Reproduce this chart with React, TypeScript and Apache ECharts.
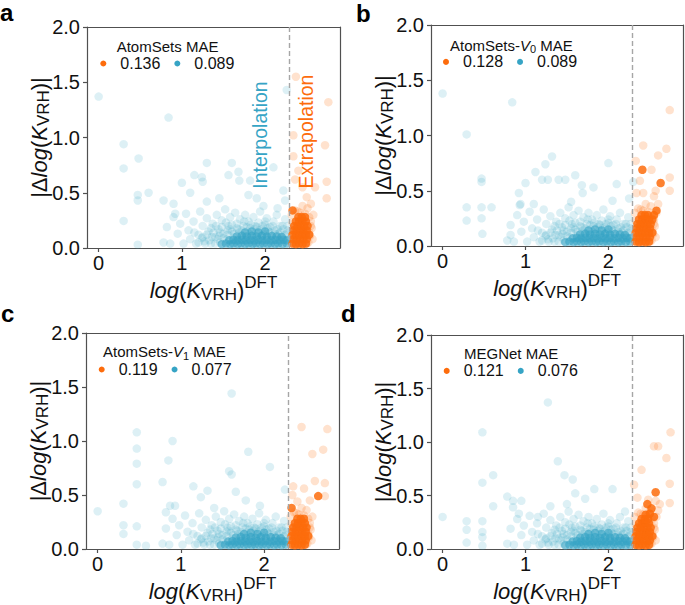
import React, { useEffect, useRef } from 'react';
import * as echarts from 'echarts';

// ---------------- data ----------------
const panelIds = ['a', 'b', 'c', 'd'];
const threshold = 2.29;
const xTicks = [0, 1, 2];
const maeExtrap = ['0.136', '0.128', '0.119', '0.121'];
const maeInterp = ['0.089', '0.089', '0.077', '0.076'];
const modelTitles = ['AtomSets MAE', 'AtomSets-{i|V}{s|0} MAE', 'AtomSets-{i|V}{s|1} MAE', 'MEGNet MAE'];

// dense interpolation cloud (common test-set body)
const interpCloud = [
  [0.78, 0.05], [0.82, 0.19], [0.86, 0.04], [0.9, 0.28], [0.95, 0.13], [0.98, 0.22], [1.02, 0.04], [1.05, 0.31], [1.08, 0.16], [1.1, 0.08],
  [1.14, 0.24], [1.17, 0.04], [1.2, 0.12], [1.22, 0.33], [1.25, 0.2], [1.27, 0.06], [1.3, 0.27], [1.32, 0.15], [1.35, 0.04], [1.37, 0.22],
  [1.4, 0.1], [1.42, 0.3], [1.44, 0.17], [1.46, 0.05], [1.48, 0.25], [1.5, 0.13], [1.52, 0.35], [1.54, 0.08], [1.56, 0.2], [1.58, 0.28],
  [1.6, 0.15], [1.62, 0.1], [1.64, 0.32], [1.66, 0.22], [1.68, 0.17], [1.7, 0.26], [1.72, 0.12], [1.74, 0.2], [1.76, 0.3], [1.78, 0.15],
  [1.8, 0.24], [1.82, 0.18], [1.84, 0.11], [1.86, 0.28], [1.88, 0.2], [1.9, 0.14], [1.92, 0.23], [1.94, 0.33], [1.96, 0.17], [1.98, 0.12],
  [2.0, 0.21], [2.02, 0.27], [2.04, 0.15], [2.06, 0.19], [2.08, 0.11], [2.1, 0.24], [2.12, 0.16], [2.14, 0.3], [2.16, 0.13], [2.18, 0.2],
  [2.2, 0.1], [2.22, 0.17], [2.24, 0.26], [2.26, 0.13], [2.28, 0.08], [2.27, 0.2], [1.65, 0.06], [1.75, 0.07], [1.85, 0.05], [1.95, 0.08],
  [1.55, 0.16], [1.45, 0.11], [1.35, 0.18], [1.25, 0.1], [1.15, 0.14],
];
const interpBand = [
  [1.2, 0.05], [1.24, 0.09], [1.28, 0.04], [1.3, 0.12], [1.33, 0.07], [1.36, 0.1], [1.38, 0.14], [1.4, 0.04], [1.41, 0.2], [1.43, 0.08],
  [1.46, 0.14], [1.48, 0.19], [1.5, 0.09], [1.53, 0.23], [1.55, 0.12], [1.58, 0.17], [1.6, 0.21], [1.63, 0.13], [1.66, 0.18], [1.69, 0.14],
  [1.72, 0.16], [1.75, 0.24], [1.78, 0.19], [1.81, 0.13], [1.83, 0.21], [1.87, 0.17], [1.9, 0.19], [1.93, 0.16], [1.97, 0.2], [2.0, 0.13],
  [2.03, 0.18], [2.06, 0.14], [2.09, 0.2], [2.12, 0.13], [2.15, 0.17], [2.18, 0.14], [2.21, 0.2], [2.24, 0.12], [2.27, 0.16], [2.0, 0.24],
];
const interpCore = [
  [1.48, 0.035], [1.53, 0.04], [1.58, 0.035], [1.62, 0.04], [1.67, 0.035], [1.71, 0.04], [1.76, 0.035], [1.8, 0.04], [1.85, 0.035],
  [1.89, 0.04], [1.94, 0.035], [1.98, 0.04], [2.03, 0.035], [2.07, 0.04], [2.12, 0.035], [2.16, 0.04], [2.21, 0.035], [2.26, 0.04],
  [1.57, 0.07], [1.62, 0.075], [1.67, 0.07], [1.72, 0.075], [1.77, 0.07], [1.82, 0.075], [1.87, 0.07], [1.92, 0.075], [1.97, 0.07],
  [2.02, 0.075], [2.07, 0.07], [2.12, 0.075], [2.17, 0.07], [2.22, 0.075], [2.26, 0.07],
  [1.66, 0.105], [1.72, 0.11], [1.78, 0.105], [1.84, 0.11], [1.9, 0.105], [1.96, 0.11], [2.02, 0.105], [2.08, 0.11], [2.14, 0.105], [2.2, 0.1],
  [1.76, 0.14], [1.84, 0.15], [1.92, 0.14], [2.0, 0.15],
];
const extrapCloud = [
  [2.32, 0.3], [2.36, 0.34], [2.42, 0.32], [2.48, 0.31], [2.53, 0.28], [2.55, 0.24], [2.56, 0.18], [2.54, 0.11], [2.52, 0.05],
  [2.58, 0.3], [2.45, 0.38], [2.51, 0.36], [2.33, 0.23], [2.57, 0.08], [2.5, 0.04], [2.55, 0.2], [2.53, 0.14], [2.39, 0.33],
];
const extrapCore = [
  [2.33, 0.04], [2.37, 0.035], [2.41, 0.04], [2.45, 0.035], [2.49, 0.04],
  [2.34, 0.08], [2.38, 0.08], [2.42, 0.085], [2.46, 0.08], [2.5, 0.08],
  [2.33, 0.12], [2.37, 0.12], [2.41, 0.12], [2.45, 0.125], [2.49, 0.12], [2.53, 0.12],
  [2.34, 0.16], [2.38, 0.16], [2.42, 0.165], [2.46, 0.16], [2.5, 0.16],
  [2.35, 0.2], [2.39, 0.2], [2.43, 0.205], [2.47, 0.2], [2.51, 0.2],
  [2.37, 0.24], [2.41, 0.24], [2.45, 0.245], [2.49, 0.24],
  [2.4, 0.28], [2.44, 0.28], [2.48, 0.28],
];

// per-panel scattered points
const aInterp = [[0, 1.37], [0.84, 1.18], [2.26, 1.43], [0.3, 0.94], [0.3, 0.72], [0.48, 0.81], [0.47, 0.48], [0.47, 0.43], [0.6, 0.5], [0.3, 0.245], [0.47, 0.03], [0.78, 0.43], [1.0, 0.59], [0.92, 0.31], [1.15, 0.66], [1.24, 0.64], [1.25, 0.6], [1.3, 0.77], [1.6, 0.77], [1.68, 0.69], [1.69, 0.61], [1.56, 0.66], [1.82, 0.61], [1.8, 0.48], [1.9, 0.45], [2.1, 0.73], [2.22, 0.52], [2.24, 0.43], [1.45, 0.45], [1.1, 0.5], [1.3, 0.42], [0.9, 0.4], [1.98, 0.38], [2.15, 0.36]];
const bInterp = [[0, 1.38], [0.84, 1.3], [0.29, 1.01], [0.47, 0.61], [0.47, 0.58], [0.29, 0.35], [0.29, 0.23], [0.47, 0.35], [0.47, 0.25], [0.48, 0.11], [0.59, 0.35], [0.82, 0.1], [1.0, 0.57], [0.92, 0.48], [0.94, 0.38], [1.12, 0.67], [1.32, 0.81], [1.24, 0.74], [1.2, 0.6], [1.27, 0.6], [1.4, 0.6], [1.48, 0.6], [1.6, 0.64], [1.68, 0.55], [1.69, 0.48], [1.82, 0.53], [2.0, 0.75], [2.1, 0.56], [2.25, 0.43], [2.3, 0.58], [0.93, 0.37], [1.1, 0.38], [1.55, 0.4], [2.05, 0.41]];
const cInterp = [[1.61, 1.44], [0.47, 1.08], [0.47, 0.93], [0.47, 0.79], [0.9, 1.0], [0.85, 0.82], [1.81, 0.9], [0.47, 0.6], [0.78, 0.62], [0.31, 0.42], [0, 0.35], [0.31, 0.22], [0.31, 0.14], [0.47, 0.21], [0.47, 0.04], [0.58, 0.03], [0.87, 0.4], [0.93, 0.4], [0.82, 0.34], [1.15, 0.58], [1.24, 0.48], [1.32, 0.54], [1.58, 0.72], [1.61, 0.69], [1.66, 0.53], [2.07, 0.76], [1.78, 0.45], [2.25, 0.55], [1.95, 0.4], [1.4, 0.38]];
const dInterp = [[1.27, 1.37], [0.48, 1.09], [0.48, 0.62], [0.61, 0.69], [0.61, 0.4], [0, 0.3], [0.29, 0.26], [0.29, 0.18], [0.48, 0.26], [0.48, 0.16], [0.48, 0.11], [0.29, 0.06], [0.48, 0.03], [1.39, 0.82], [1.47, 0.69], [1.57, 0.65], [0.78, 0.49], [0.85, 0.45], [0.95, 0.45], [0.85, 0.39], [0.92, 0.33], [1.72, 0.47], [1.83, 0.56], [2.05, 0.56], [1.6, 0.52], [1.5, 0.42], [1.3, 0.4], [2.2, 0.35], [1.15, 0.3]];

const aExtrap = [[2.37, 1.55], [2.76, 1.32], [2.34, 1.02], [2.72, 0.93], [2.6, 0.55], [2.74, 0.6], [2.74, 0.45], [2.34, 0.83], [2.4, 0.7], [2.36, 0.62], [2.5, 0.46], [2.45, 0.55], [2.55, 0.4]];
const bExtrap = [[2.74, 1.23], [2.42, 0.91], [2.7, 0.88], [2.6, 0.82], [2.33, 0.77], [2.52, 0.69], [2.74, 0.62], [2.74, 0.5], [2.38, 0.59], [2.34, 0.48], [2.42, 0.48], [2.57, 0.5], [2.55, 0.45], [2.6, 0.38]];
const cExtrap = [[2.45, 1.13], [2.76, 1.11], [2.58, 0.88], [2.71, 0.92], [2.35, 0.58], [2.48, 0.56], [2.61, 0.63], [2.73, 0.61], [2.73, 0.49], [2.4, 0.44], [2.34, 0.5], [2.55, 0.45]];
const dExtrap = [[2.75, 1.09], [2.55, 0.96], [2.6, 0.96], [2.7, 0.85], [2.4, 0.74], [2.31, 0.6], [2.74, 0.61], [2.74, 0.43], [2.48, 0.46], [2.57, 0.45], [2.62, 0.42], [2.35, 0.48], [2.6, 0.36]];

const aExtrapCore = [[2.33, 0.34]];
const bExtrapCore = [[2.41, 0.69], [2.63, 0.57], [2.53, 0.24], [2.55, 0.28], [2.58, 0.32]];
const cExtrapCore = [[2.65, 0.49], [2.33, 0.38]];
const dExtrapCore = [[2.57, 0.53], [2.45, 0.32], [2.5, 0.33], [2.52, 0.38], [2.47, 0.42], [2.55, 0.3]];

const interpOut = [aInterp, bInterp, cInterp, dInterp];
const extrapOut = [aExtrap, bExtrap, cExtrap, dExtrap];
const extrapCoreExtra = [aExtrapCore, bExtrapCore, cExtrapCore, dExtrapCore];

// ---------------- layout / style ----------------
const F = "'Liberation Sans', Arial, Helvetica, sans-serif";
const BLUE = '#36a4c5';
const ORANGE = '#fd6c0c';
const FRAME = '#505050';
const TXT = '#111111';

const grids = [
  { left: 87, top: 27, width: 253, height: 221 },
  { left: 431, top: 25, width: 252, height: 221 },
  { left: 86, top: 333, width: 253, height: 219.5 },
  { left: 431, top: 335, width: 252, height: 220 },
];
const legendPos = [
  { left: 100.3, top: 55 },
  { left: 443, top: 53.4 },
  { left: 98.7, top: 361 },
  { left: 443.7, top: 362.4 },
];
const titlePos = [
  { left: 116.7, top: 39 },
  { left: 450, top: 35.5 },
  { left: 103, top: 342.2 },
  { left: 464, top: 345.8 },
];
const letterPos = [
  { x: 0, y: 12.5 },
  { x: 356, y: 13.5 },
  { x: 1, y: 313 },
  { x: 341, y: 313 },
];

const nameRich = {
  n: { fontSize: 22, fontFamily: F, color: TXT, verticalAlign: 'middle' },
  i: { fontSize: 22, fontFamily: F, color: TXT, fontStyle: 'italic', verticalAlign: 'middle' },
  s: { fontSize: 17, fontFamily: F, color: TXT, padding: [8, 0, 0, 0], verticalAlign: 'middle' },
  p: { fontSize: 17, fontFamily: F, color: TXT, padding: [0, 0, 16, 0], verticalAlign: 'middle' },
};
const xName = '{i|log}{n|(}{i|K}{s|VRH}{n|)}{p|DFT}';
const yName = '{n||Δ}{i|log}{n|(}{i|K}{s|VRH}{n|)|}';

function buildOption() {
  const xAxis: any[] = [];
  const yAxis: any[] = [];
  const series: any[] = [];
  const legend: any[] = [];
  const title: any[] = [];
  const frameLine = { show: true, onZero: false, lineStyle: { color: FRAME, width: 1.2 } };

  panelIds.forEach((p, i) => {
    xAxis.push({
      type: 'value', gridIndex: i, min: -0.14, max: 2.9, position: 'bottom',
      axisLine: frameLine,
      axisTick: { show: true, length: 4, lineStyle: { color: FRAME, width: 1.2 }, customValues: xTicks },
      axisLabel: { customValues: xTicks, fontSize: 20, color: TXT, fontFamily: F, margin: 5 },
      splitLine: { show: false },
      name: xName, nameLocation: 'middle', nameGap: 26, nameMoveOverlap: false,
      nameTextStyle: { fontSize: 22, fontFamily: F, color: TXT, rich: nameRich },
    });
    yAxis.push({
      type: 'value', gridIndex: i, min: 0, max: 2, interval: 0.5, position: 'left',
      axisLine: frameLine,
      axisTick: { show: true, length: 4, lineStyle: { color: FRAME, width: 1.2 } },
      axisLabel: { fontSize: 20, color: TXT, fontFamily: F, margin: 7, formatter: (v: number) => v.toFixed(1) },
      splitLine: { show: false },
      name: yName, nameLocation: 'middle', nameRotate: 90, nameGap: 35, nameMoveOverlap: false,
      nameTextStyle: { fontSize: 22, fontFamily: F, color: TXT, rich: nameRich },
    });
    const common = { type: 'scatter', xAxisIndex: i, yAxisIndex: i, symbolSize: 8.5, silent: true, emphasis: { disabled: true } };
    series.push({
      ...common, name: `${p}-int-light`, data: interpCloud.concat(interpBand, interpOut[i]),
      itemStyle: { color: BLUE, opacity: 0.17 },
      markLine: {
        silent: true, symbol: ['none', 'none'], label: { show: false },
        lineStyle: { color: '#a6a6a6', type: [5, 3], width: 1.4 },
        data: [{ xAxis: threshold }],
      },
    });
    series.push({ ...common, name: `${p}-int`, data: interpCore, itemStyle: { color: BLUE, opacity: 0.6 } });
    series.push({ ...common, name: `${p}-ext-light`, data: extrapCloud.concat(extrapOut[i]), itemStyle: { color: ORANGE, opacity: 0.2 } });
    series.push({ ...common, name: `${p}-ext`, data: extrapCore.concat(extrapCoreExtra[i]), itemStyle: { color: ORANGE, opacity: 0.85 } });

    legend.push({
      ...legendPos[i], padding: 0, itemWidth: 6, itemHeight: 6, itemGap: 14, icon: 'circle', selectedMode: false,
      data: [
        { name: `${p}-ext`, itemStyle: { color: ORANGE, opacity: 1 } },
        { name: `${p}-int`, itemStyle: { color: BLUE, opacity: 1 } },
      ],
      formatter: (n: string) => (n.endsWith('-ext') ? maeExtrap[i] : maeInterp[i]),
      textStyle: { fontSize: 16, fontFamily: F, color: TXT, padding: [0, 0, 0, 9], lineHeight: 17 },
    });
    title.push({
      ...titlePos[i], padding: 0, text: modelTitles[i],
      textStyle: {
        fontSize: 15, fontWeight: 'normal', fontFamily: F, color: TXT,
        rich: {
          i: { fontSize: 15, fontStyle: 'italic', fontFamily: F, color: TXT, verticalAlign: 'middle' },
          s: { fontSize: 11, fontFamily: F, color: TXT, padding: [8, 0, 0, 0], verticalAlign: 'middle' },
        },
      },
    });
  });

  // top / right spines
  panelIds.forEach((_p, i) => {
    xAxis.push({
      type: 'value', gridIndex: i, min: -0.14, max: 2.9, position: 'top',
      axisLine: frameLine, axisTick: { show: false }, axisLabel: { show: false }, splitLine: { show: false },
    });
    yAxis.push({
      type: 'value', gridIndex: i, min: 0, max: 2, interval: 0.5, position: 'right',
      axisLine: frameLine, axisTick: { show: false }, axisLabel: { show: false }, splitLine: { show: false },
    });
  });

  const graphic: any[] = panelIds.map((p, i) => ({
    type: 'text', x: letterPos[i].x, y: letterPos[i].y, silent: true,
    style: { text: p, font: `bold 24px ${F}`, fill: '#000', align: 'left', verticalAlign: 'middle' },
  }));
  graphic.push({
    type: 'text', x: 259.5, y: 135, rotation: Math.PI / 2, silent: true,
    style: { text: 'Interpolation', font: `19.5px ${F}`, fill: BLUE, align: 'center', verticalAlign: 'middle' },
  });
  graphic.push({
    type: 'text', x: 306, y: 131.5, rotation: Math.PI / 2, silent: true,
    style: { text: 'Extrapolation', font: `19.5px ${F}`, fill: ORANGE, align: 'center', verticalAlign: 'middle' },
  });

  return {
    animation: false,
    backgroundColor: '#ffffff',
    grid: grids.map((g) => ({ ...g, containLabel: false })),
    xAxis, yAxis, series, legend, title, graphic,
  };
}

export default function App() {
  const ref = useRef<HTMLDivElement>(null);
  useEffect(() => {
    if (!ref.current) return;
    const chart = echarts.init(ref.current, undefined, { renderer: 'svg' });
    chart.setOption(buildOption() as any);
    return () => chart.dispose();
  }, []);
  return <div ref={ref} style={{ position: 'fixed', left: 0, top: 0, width: 685, height: 605, background: '#fff' }} />;
}
